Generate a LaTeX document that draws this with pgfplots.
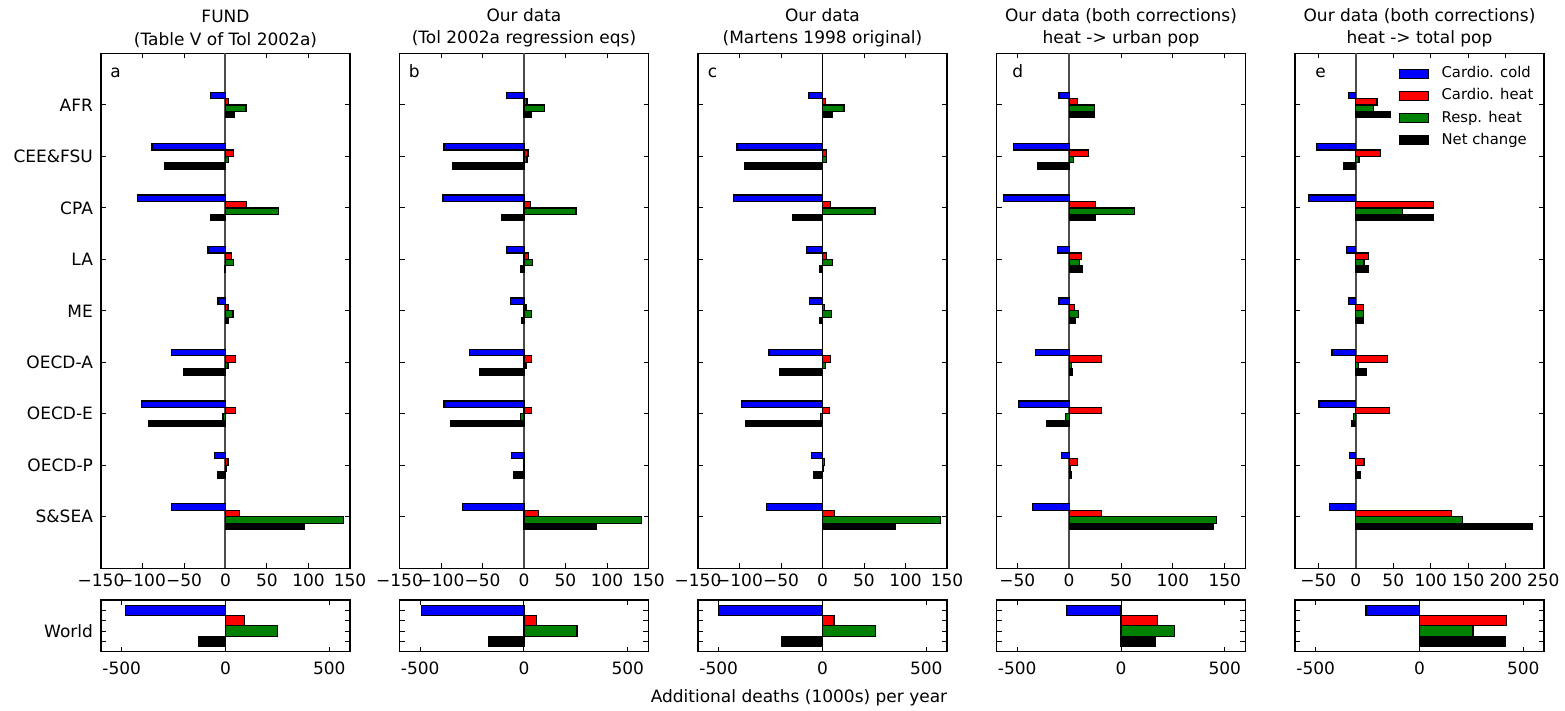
\documentclass[border=0pt]{standalone}
\usepackage{fontspec}
\setmainfont{DejaVu Sans}
\usepackage{pgfplots}
\usepackage{pgfplotstable}
\pgfplotsset{compat=1.18}

\definecolor{mplgreen}{RGB}{0,128,0}
\newcommand\lab{\fontsize{8.5}{11.25}\selectfont}
\newcommand\legfont{\fontsize{7.4}{9}\selectfont}

% regions: AFR=9 ... S&SEA=1
\pgfplotstableread{
pos cold heat resp net
9 -18.3 4.0 24.8 10.6
8 -88.6 10.0 4.0 -73.0
7 -105.7 25.0 64.0 -17.5
6 -21.0 7.7 10.0 -1.5
5 -9.0 3.0 9.0 3.0
4 -65.4 12.0 3.0 -51.0
3 -101.6 12.0 -3.0 -92.7
2 -13.4 3.0 0.5 -9.4
1 -65.4 17.0 142.0 95.5
}\tfund

\pgfplotstableread{
pos cold heat resp net
9 -21.0 3.7 24.8 9.3
8 -96.3 4.9 3.7 -86.0
7 -97.6 8.0 62.6 -26.4
6 -21.0 5.0 10.6 -4.0
5 -16.0 2.4 9.3 -3.0
4 -65.4 9.3 2.4 -53.7
3 -96.3 9.3 -4.0 -88.6
2 -14.6 1.0 0.5 -12.2
1 -74.0 17.0 142.0 87.8
}\tregr

\pgfplotstableread{
pos cold heat resp net
9 -17.0 4.0 25.8 12.0
8 -103.0 5.0 5.2 -94.4
7 -107.0 9.3 63.3 -36.3
6 -19.4 5.0 11.7 -3.0
5 -15.7 2.4 10.5 -4.0
4 -64.5 9.3 4.0 -52.0
3 -98.0 8.9 -2.0 -93.0
2 -12.9 2.4 1.2 -10.5
1 -67.3 14.5 142.0 88.0
}\tmart

\pgfplotstableread{
pos cold heat resp net
9 -9.7 8.4 24.5 24.8
8 -53.9 18.7 4.5 -30.3
7 -63.2 25.5 63.2 25.8
6 -11.3 12.3 10.0 12.6
5 -9.7 5.2 9.0 6.5
4 -32.3 31.3 2.3 3.5
3 -48.7 31.3 -3.5 -21.3
2 -7.4 8.4 1.0 2.3
1 -35.5 31.3 142.0 138.7
}\turban

\pgfplotstableread{
pos cold heat resp net
9 -9.3 28.4 24.0 45.8
8 -52.4 32.9 4.4 -16.4
7 -63.0 103.5 62.7 104.0
6 -12.0 16.9 11.0 17.3
5 -10.2 9.8 9.8 10.2
4 -31.6 42.7 3.5 14.7
3 -48.9 45.3 -3.5 -6.2
2 -8.0 11.0 1.0 6.2
1 -34.7 128.0 142.0 236.0
}\ttotal

\tikzset{
  zgray/.style={black!70, line width=1pt},
  zblack/.style={black, line width=0.65pt},
}

\pgfplotsset{
  every axis title/.style={at={(0.5,1)}, anchor=south, inner sep=0pt, yshift=2.9pt, font=\lab, align=center},
  scold/.style={fill=blue, draw=black, line width=0.6pt, bar shift=0.1875},
  sheat/.style={fill=red, draw=black, line width=0.6pt, bar shift=0.0625},
  sresp/.style={fill=mplgreen, draw=black, line width=0.6pt, bar shift=-0.0625},
  snet/.style={fill=black, draw=black, line width=0.6pt, bar shift=-0.1875},
  patchlegend/.style={legend image code/.code={\draw[##1] (0pt,-2.25pt) rectangle (14.5pt,2.25pt);}},
  panel/.style={
    scale only axis, anchor=south west, width=124.5pt,
    xbar,
    tick align=inside, tick pos=both,
    major tick length=2.5pt,
    every tick/.style={black, line width=0.5pt},
    axis line style={black, line width=0.7pt},
    tick label style={font=\lab},
    xticklabel style={inner sep=0pt, yshift=-2.85pt},
    yticklabel style={inner sep=0pt, xshift=-3.85pt},
  },
  top/.style={panel, height=257.35pt, bar width=0.125,
    ymin=0, ymax=10, ytick={1,...,9}, yticklabels={}},
  world/.style={panel, height=25.85pt, bar width=1,
    ymin=0, ymax=5, ytick={1,2,3,4}, yticklabels={},
    xmin=-600, xmax=600, xtick={-500,0,500}, xticklabels={-500,0,500},
    xticklabel style={yshift=-1.85pt}},
  abc/.style={xmin=-150, xmax=150, xtick={-150,-100,...,150},
    xticklabels={−150,−100,−50,0,50,100,150}},
}

% #1 zero-line style, #2 table
\newcommand\bars[2]{%
  \draw[#1] (axis cs:0,0) -- (axis cs:0,10);
  \addplot[scold] table[x=cold, y=pos] {#2};
  \addplot[sheat] table[x=heat, y=pos] {#2};
  \addplot[sresp] table[x=resp, y=pos] {#2};
  \addplot[snet] table[x=net, y=pos] {#2};
}
\newcommand\letter[2]{%
  \node[font=\lab, anchor=base west, inner sep=0pt, xshift=#1, yshift=-12.1pt] at (rel axis cs:0,1) {#2};
}
\newcommand\zeroline{\draw[black, line width=0.5pt] (axis cs:0,0) -- (axis cs:0,5);}

\begin{document}
\begin{tikzpicture}
\useasboundingbox (0,0) rectangle (782.5pt,-355.5pt);

% ---- regional panels ----
\begin{axis}[top, abc, at={(50.5pt,-284.1pt)},
  title={FUND\\(Table V of Tol 2002a)},
  yticklabels={S\&SEA,OECD-P,OECD-E,OECD-A,ME,LA,CPA,CEE\&FSU,AFR}]
\bars{zgray}{\tfund}
\letter{4.5pt}{a}
\end{axis}

\begin{axis}[top, abc, at={(199.75pt,-284.1pt)},
  title={Our data\\(Tol 2002a regression eqs)}]
\bars{zgray}{\tregr}
\letter{4.5pt}{b}
\end{axis}

\begin{axis}[top, abc, at={(349pt,-284.1pt)},
  title={Our data\\(Martens 1998 original)}]
\bars{zblack}{\tmart}
\letter{4.7pt}{c}
\end{axis}

\begin{axis}[top, at={(498.25pt,-284.1pt)},
  xmin=-70, xmax=170, xtick={-50,0,50,100,150},
  xticklabels={−50,0,50,100,150},
  title={Our data (both corrections)\\heat -> urban pop}]
\bars{zgray}{\turban}
\letter{7.7pt}{d}
\end{axis}

\begin{axis}[top, at={(647.5pt,-284.1pt)},
  xmin=-81, xmax=251, xtick={-50,0,50,100,150,200,250},
  xticklabels={−50,0,50,100,150,200,250},
  title={Our data (both corrections)\\heat -> total pop},
  every axis plot/.append style={patchlegend},
  legend style={at={(axis description cs:0.415,0.975)}, anchor=north west,
    draw=none, fill=none, font=\legfont, inner sep=0pt,
    row sep=4.1pt, column sep=6.35pt,
    nodes={inner sep=0pt, text height=5.5pt, text depth=1.5pt}},
  legend cell align=left]
\bars{zgray}{\ttotal}
\letter{10pt}{e}
\legend{Cardio. cold, Cardio. heat, Resp. heat, Net change}
\end{axis}

% ---- world panels ----
\begin{axis}[world, at={(50.5pt,-325.85pt)}, yticklabels={,World,,}]
\zeroline
\addplot[scold, bar shift=0pt] coordinates {(-481,4)};
\addplot[sheat, bar shift=0pt] coordinates {(91,3)};
\addplot[sresp, bar shift=0pt] coordinates {(252,2)};
\addplot[snet, bar shift=0pt] coordinates {(-131,1)};
\end{axis}

\begin{axis}[world, at={(199.75pt,-325.85pt)}]
\zeroline
\addplot[scold, bar shift=0pt] coordinates {(-495,4)};
\addplot[sheat, bar shift=0pt] coordinates {(62,3)};
\addplot[sresp, bar shift=0pt] coordinates {(255,2)};
\addplot[snet, bar shift=0pt] coordinates {(-173,1)};
\end{axis}

\begin{axis}[world, at={(349pt,-325.85pt)}]
\zeroline
\addplot[scold, bar shift=0pt] coordinates {(-502,4)};
\addplot[sheat, bar shift=0pt] coordinates {(55,3)};
\addplot[sresp, bar shift=0pt] coordinates {(256,2)};
\addplot[snet, bar shift=0pt] coordinates {(-198,1)};
\end{axis}

\begin{axis}[world, at={(498.25pt,-325.85pt)}]
\zeroline
\addplot[scold, bar shift=0pt] coordinates {(-263,4)};
\addplot[sheat, bar shift=0pt] coordinates {(174,3)};
\addplot[sresp, bar shift=0pt] coordinates {(258,2)};
\addplot[snet, bar shift=0pt] coordinates {(167,1)};
\end{axis}

\begin{axis}[world, at={(647.5pt,-325.85pt)}]
\zeroline
\addplot[scold, bar shift=0pt] coordinates {(-258,4)};
\addplot[sheat, bar shift=0pt] coordinates {(418,3)};
\addplot[sresp, bar shift=0pt] coordinates {(258,2)};
\addplot[snet, bar shift=0pt] coordinates {(413,1)};
\end{axis}

\node[font=\lab, anchor=base] at (399.5pt,-351.3pt) {Additional deaths (1000s) per year};
\end{tikzpicture}
\end{document}
